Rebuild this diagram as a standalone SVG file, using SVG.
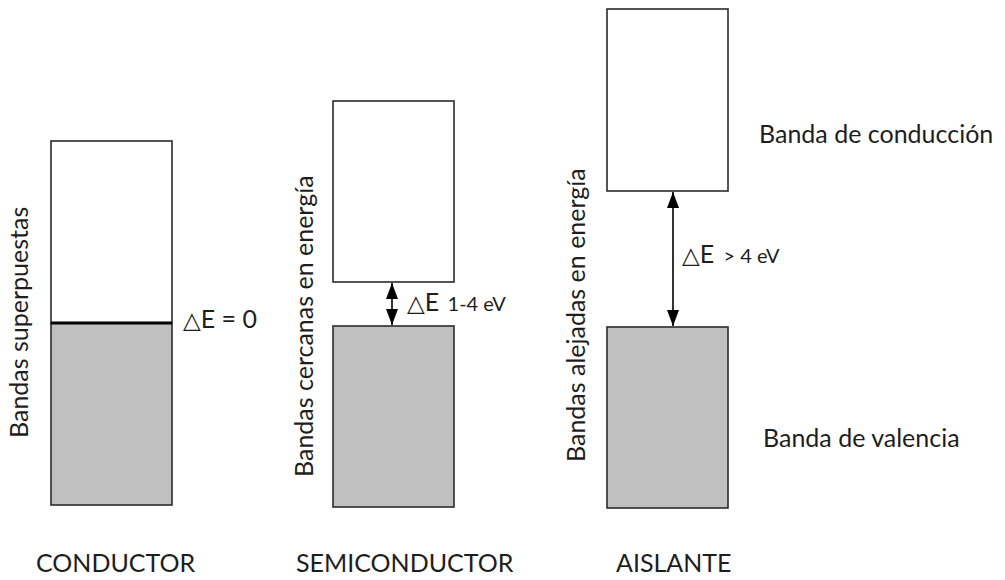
<svg xmlns="http://www.w3.org/2000/svg" width="1005" height="580" viewBox="0 0 1005 580">
<style>
.band{stroke:#2b2b2b;stroke-width:1.6}
.empty{fill:#ffffff}
.full{fill:#c0c0c0}
.lbl{font-family:Lato,"Open Sans","Liberation Sans",sans-serif;font-size:25px;fill:#1e1e1e}
.small{font-size:20px}
.tri{font-family:"DejaVu Sans",sans-serif;font-size:23px}
.conn{stroke:#000;stroke-width:1.6;fill:none}
</style>
<defs>
<marker id="ah" viewBox="0 0 16 12" refX="16" refY="6" markerWidth="16" markerHeight="12" markerUnits="userSpaceOnUse" orient="auto-start-reverse">
<path d="M0,0 L16,6 L0,12 z" fill="#000"/>
</marker>
</defs>
<rect width="1005" height="580" fill="#fff"/>

<g id="conductor">
<rect class="band empty" x="51" y="141" width="121" height="182"/>
<rect class="band full" x="51" y="323" width="121" height="182"/>
<line x1="51" y1="323" x2="172" y2="323" stroke="#000" stroke-width="3"/>
<text class="lbl" transform="translate(28,438) rotate(-90)">Bandas superpuestas</text>
<text class="lbl" x="183" y="328"><tspan class="tri">△</tspan>E = 0</text>
<text class="lbl" x="36" y="572">CONDUCTOR</text>
</g>

<g id="semiconductor">
<rect class="band empty" x="333" y="101" width="121" height="181"/>
<rect class="band full" x="333" y="326" width="121" height="181"/>
<text class="lbl" transform="translate(313,477) rotate(-90)">Bandas cercanas en energía</text>
<text class="lbl" x="407" y="311"><tspan class="tri">△</tspan>E <tspan class="small" dx="2">1-4 eV</tspan></text>
<text class="lbl" x="296" y="572">SEMICONDUCTOR</text>
</g>

<g id="aislante">
<rect class="band empty" x="607" y="9" width="121" height="182"/>
<rect class="band full" x="607" y="327" width="121" height="181"/>
<text class="lbl" transform="translate(585,462) rotate(-90)">Bandas alejadas en energía</text>
<text class="lbl" x="682" y="263"><tspan class="tri">△</tspan>E <tspan class="small" dx="3">&gt; 4 eV</tspan></text>
<text class="lbl" x="616" y="572">AISLANTE</text>
</g>

<g id="labels">
<text class="lbl" x="759" y="143">Banda de conducción</text>
<text class="lbl" x="763" y="447">Banda de valencia</text>
</g>

<g id="connectors">
<line class="conn" x1="392" y1="283" x2="392" y2="325" marker-start="url(#ah)" marker-end="url(#ah)"/>
<line class="conn" x1="673" y1="192" x2="673" y2="326" marker-start="url(#ah)" marker-end="url(#ah)"/>
</g>
</svg>
